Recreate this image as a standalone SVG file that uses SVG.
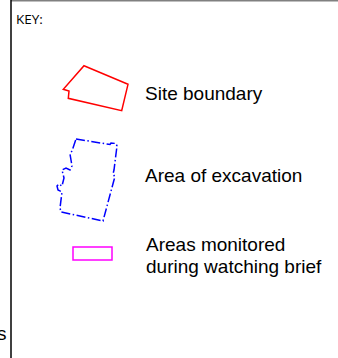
<svg xmlns="http://www.w3.org/2000/svg" width="338" height="358" viewBox="0 0 338 358">
<style>
.lbl{font-family:"Liberation Sans",Arial,sans-serif;font-size:19px;fill:#000}
.key{font-family:"Open Sans","Liberation Sans",Arial,sans-serif;font-size:13.5px;fill:#000}
</style>
<rect width="338" height="358" fill="#fff"/>
<g id="frame">
<line x1="11" y1="0.75" x2="338" y2="0.75" stroke="#808080" stroke-width="1.5"/>
<line x1="11" y1="0" x2="11" y2="358" stroke="#000" stroke-width="1.5"/>
<text class="lbl" x="-3" y="340">s</text>
</g>
<g id="key-title"><text class="key" x="16" y="24">KEY:</text></g>
<g id="site-boundary">
<polygon points="84,65.7 128,84.3 121.7,110.7 68.3,98.3 69,91 63.3,89.3" fill="none" stroke="#ff0000" stroke-width="1.5" stroke-linejoin="miter"/>
<text class="lbl" x="145" y="99.5">Site boundary</text>
</g>
<g id="area-excavation">
<polygon points="76,139 110,144.5 111,143 116,143.5 117,146 114,170 113,174 115,177 114,180 103,221 61,212 60,208 62,192 58,190 57,186 59,184 62,186 64,178 63,174 62,170 66,168 70,170 72,166 71,160 70,154 72,151 73,148" fill="none" stroke="#0000ff" stroke-width="1.5" stroke-dasharray="9 2.5 1.5 2.5"/>
<text class="lbl" x="145" y="182">Area of excavation</text>
</g>
<g id="watching-brief">
<rect x="73" y="247" width="39" height="13" fill="none" stroke="#ff00ff" stroke-width="1.5"/>
<text class="lbl" x="146" y="251">Areas monitored</text>
<text class="lbl" x="146" y="273">during watching brief</text>
</g>
</svg>
